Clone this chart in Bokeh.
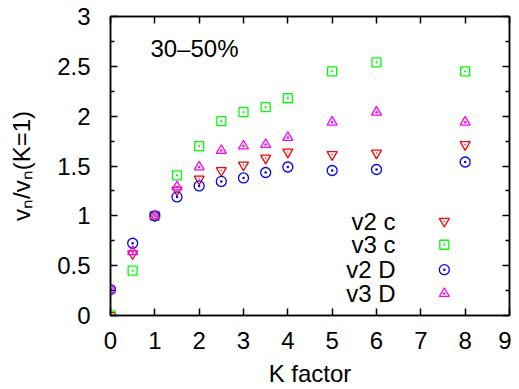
from bokeh.plotting import figure
from bokeh.models import LinearAxis, Range1d, FixedTicker, Label
from bokeh.embed import file_html
from bokeh.resources import INLINE

# ---- data ----
k = [0, 0.5, 1, 1.5, 2, 2.5, 3, 3.5, 4, 5, 6, 8]
v2c = [0.0, 0.62, 1.0, 1.26, 1.37, 1.455, 1.51, 1.58, 1.64, 1.615, 1.63, 1.715]
v3c = [0.0, 0.45, 1.0, 1.405, 1.70, 1.95, 2.04, 2.09, 2.18, 2.45, 2.54, 2.45]
v2D = [0.26, 0.725, 1.0, 1.19, 1.30, 1.345, 1.38, 1.435, 1.49, 1.455, 1.465, 1.54]
v3D = [0.26, 0.64, 1.0, 1.29, 1.49, 1.655, 1.70, 1.715, 1.786, 1.94, 2.04, 1.94]

series_names = ["v2 c", "v3 c", "v2 D", "v3 D"]
series_colors = ["#ff0000", "#00ff00", "#0000ff", "#ff00ff"]
series_markers = ["inverted_triangle", "square_dot", "circle_dot", "triangle_dot"]
series_sizes = [10, 9, 10, 10]

x_ticks = [0, 1, 2, 3, 4, 5, 6, 7, 8, 9]
y_ticks = [0, 0.5, 1, 1.5, 2, 2.5, 3]
y_minor = [0.25, 0.75, 1.25, 1.75, 2.25, 2.75]

FONT = "Liberation Sans"
FS = "24px"

p = figure(width=511, height=389, x_range=Range1d(0, 9), y_range=Range1d(0, 3),
           output_backend="svg", toolbar_location=None,
           min_border_left=110, min_border_right=2, min_border_top=16, min_border_bottom=74)
p.grid.visible = False
p.outline_line_color = "black"
p.outline_line_width = 1.5
p.background_fill_color = "white"
p.border_fill_color = "white"

def style_axis(ax, ticks, minor, show_labels):
    ax.ticker = FixedTicker(ticks=ticks, minor_ticks=minor)
    ax.major_tick_in = 7
    ax.major_tick_out = 0
    ax.minor_tick_in = 4
    ax.minor_tick_out = 0
    ax.major_tick_line_color = "black"
    ax.minor_tick_line_color = "black"
    ax.major_tick_line_width = 1.5
    ax.minor_tick_line_width = 1.5
    ax.axis_line_color = "black"
    ax.axis_line_width = 1.5
    if show_labels:
        ax.major_label_text_font = FONT
        ax.major_label_text_font_size = FS
        ax.major_label_text_color = "black"
    else:
        ax.major_label_text_font_size = "1px"
        ax.major_label_text_color = None
        ax.major_label_standoff = 0

style_axis(p.xaxis[0], x_ticks, [], True)
style_axis(p.yaxis[0], y_ticks, y_minor, True)
p.xaxis[0].major_label_standoff = 16
p.yaxis[0].major_label_standoff = 20
p.xaxis[0].axis_label = "K factor"
p.yaxis[0].axis_label = "vₙ/vₙ(K=1)"
for ax in (p.xaxis[0], p.yaxis[0]):
    ax.axis_label_text_font = FONT
    ax.axis_label_text_font_size = FS
    ax.axis_label_text_font_style = "normal"
    ax.axis_label_text_color = "black"
p.xaxis[0].axis_label_standoff = 8
p.yaxis[0].axis_label_standoff = 19

top = LinearAxis()
style_axis(top, x_ticks, [], False)
p.add_layout(top, "above")
right = LinearAxis()
style_axis(right, y_ticks, y_minor, False)
p.add_layout(right, "right")

series_vals = [v2c, v3c, v2D, v3D]
for name, vals, col, mk, sz in zip(series_names, series_vals, series_colors, series_markers, series_sizes):
    p.scatter(k, vals, marker=mk, size=sz, line_color=col, fill_color=None, line_width=1.3)
    if mk == "inverted_triangle":
        p.scatter(k, vals, marker="dot", size=6, line_color=col, fill_color=None, line_width=1.3)

# legend (label left, symbol right)
leg_text_x = 6.43
leg_mark_x = 7.53
leg_y = [0.946, 0.71, 0.46, 0.22]
for name, col, mk, sz, ly in zip(series_names, series_colors, series_markers, series_sizes, leg_y):
    p.add_layout(Label(x=leg_text_x, y=ly, text=name, text_align="right", text_baseline="middle",
                       text_font=FONT, text_font_size=FS, text_color="black"))
    p.scatter([leg_mark_x], [ly], marker=mk, size=sz, line_color=col, fill_color=None, line_width=1.3)
    if mk == "inverted_triangle":
        p.scatter([leg_mark_x], [ly], marker="dot", size=6, line_color=col, fill_color=None, line_width=1.3)

p.add_layout(Label(x=0.9, y=2.68, text="30–50%", text_align="left", text_baseline="middle",
                   text_font=FONT, text_font_size=FS, text_color="black"))

open("out.html", "w").write(file_html(p, INLINE))
